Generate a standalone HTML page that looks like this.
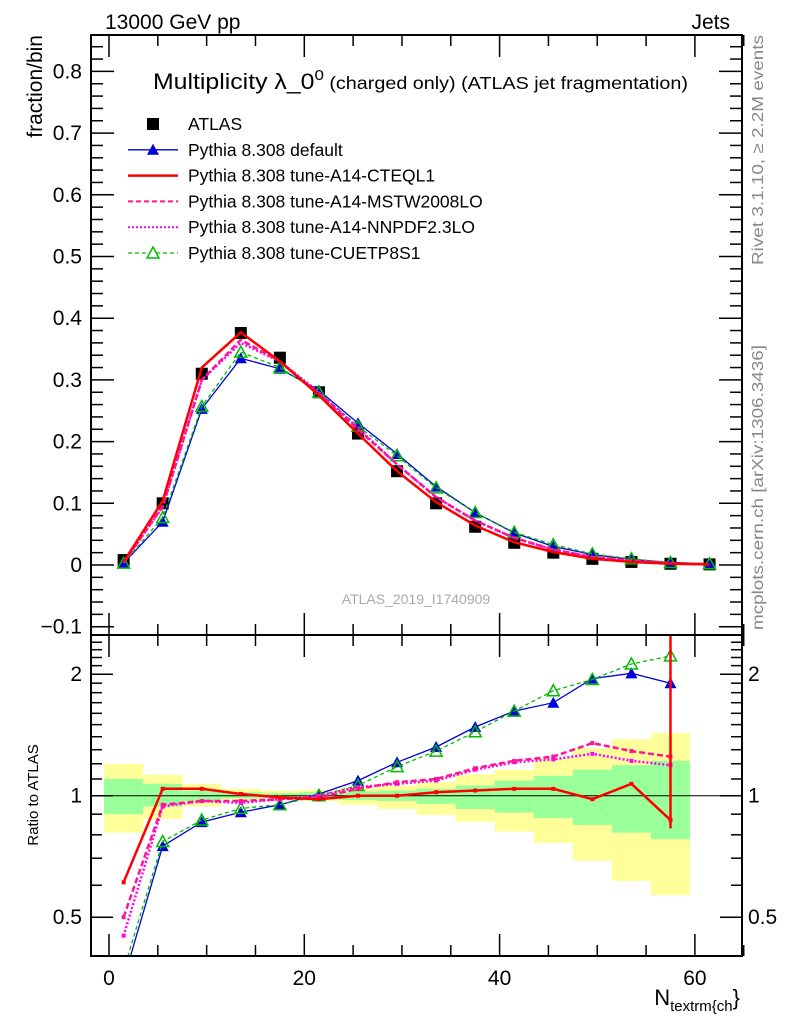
<!DOCTYPE html>
<html><head><meta charset="utf-8"><style>
body{margin:0;background:#fff}
svg{display:block;font-family:"Liberation Sans",sans-serif}
</style></head><body>
<svg id="c" width="786" height="1024" viewBox="0 0 786 1024">
<text x="105" y="29" font-size="21">13000 GeV pp</text>
<text x="730" y="29" font-size="21" text-anchor="end">Jets</text>
<text transform="translate(42,35) rotate(-90)" font-size="21" text-anchor="end">fraction/bin</text>
<text transform="translate(38,795) rotate(-90)" font-size="15" text-anchor="middle">Ratio to ATLAS</text>
<text transform="translate(763,35) rotate(-90)" font-size="16" fill="#888" text-anchor="end" textLength="230" lengthAdjust="spacingAndGlyphs">Rivet 3.1.10, ≥ 2.2M events</text>
<text transform="translate(763,630) rotate(-90)" font-size="16" fill="#888" textLength="285" lengthAdjust="spacingAndGlyphs">mcplots.cern.ch [arXiv:1306.3436]</text>
<text x="416" y="604" font-size="14" fill="#aaa" text-anchor="middle">ATLAS_2019_I1740909</text>
<text x="153" y="89" font-size="22" textLength="535" lengthAdjust="spacingAndGlyphs">Multiplicity λ_0<tspan font-size="15" dy="-9">0</tspan><tspan font-size="17.5" dy="9"> (charged only) (ATLAS jet fragmentation)</tspan></text>
<text x="740" y="1005" font-size="22" text-anchor="end">N<tspan font-size="15" dy="6">textrm{ch</tspan><tspan font-size="22" dy="-6">}</tspan></text>
<g id="plots"></g>
</svg>
<script>
const xCenters=[1.5,5.5,9.5,13.5,17.5,21.5,25.5,29.5,33.5,37.5,41.5,45.5,49.5,53.5,57.5,61.5];
const atlas=[0.008,0.10,0.31,0.376,0.336,0.28,0.213,0.152,0.10,0.062,0.036,0.02,0.01,0.005,0.002,0.001];
const mcDefault=[0.003,0.07,0.253,0.335,0.318,0.283,0.23,0.18,0.127,0.085,0.052,0.030,0.017,0.009,0.004,0.002];
const mcCTEQ=[0.005,0.104,0.32,0.377,0.33,0.275,0.213,0.152,0.102,0.064,0.037,0.021,0.010,0.005,0.002,0.001];
const mcMSTW=[0.004,0.095,0.30,0.365,0.33,0.277,0.22,0.163,0.11,0.072,0.044,0.025,0.013,0.007,0.003,0.001];
const mcNNPDF=[0.0035,0.094,0.30,0.36,0.33,0.28,0.222,0.163,0.11,0.072,0.044,0.025,0.013,0.006,0.003,0.001];
const mcCUETP=[0.003,0.077,0.257,0.345,0.32,0.28,0.225,0.177,0.125,0.085,0.053,0.033,0.018,0.010,0.004,0.002];
const rDefault=[0.35,0.75,0.86,0.91,0.95,1.01,1.09,1.21,1.32,1.48,1.62,1.70,1.95,2.01,1.90];
const rCUETP=[0.37,0.77,0.87,0.93,0.95,1.0,1.06,1.18,1.29,1.44,1.62,1.82,1.94,2.12,2.22];
const rCTEQ=[0.61,1.04,1.04,1.01,0.99,0.98,1.0,1.0,1.02,1.03,1.04,1.04,0.98,1.07,0.87];
const rMSTW=[0.50,0.95,0.97,0.97,0.98,0.99,1.04,1.08,1.10,1.17,1.22,1.25,1.35,1.29,1.25];
const rNNPDF=[0.45,0.94,0.97,0.96,0.98,1.0,1.05,1.07,1.09,1.16,1.21,1.23,1.27,1.22,1.19];
const binEdges=[-0.5,3.5,7.5,11.5,15.5,19.5,23.5,27.5,31.5,35.5,39.5,43.5,47.5,51.5,55.5,59.5];
const bandYelHi=[1.20,1.127,1.07,1.04,1.03,1.035,1.045,1.06,1.08,1.13,1.158,1.24,1.31,1.38,1.43];
const bandYelLo=[0.81,0.876,0.94,0.975,0.985,0.97,0.95,0.927,0.896,0.862,0.815,0.764,0.69,0.615,0.567];
const bandGrnHi=[1.10,1.07,1.03,1.02,1.015,1.02,1.025,1.03,1.04,1.06,1.09,1.12,1.16,1.19,1.22];
const bandGrnLo=[0.90,0.94,0.97,0.985,0.99,0.985,0.975,0.97,0.955,0.927,0.908,0.88,0.846,0.81,0.78];
const mainYTicks=[-0.1,0,0.1,0.2,0.3,0.4,0.5,0.6,0.7,0.8];
const ratioTicks=[0.5,1,2];
const xTicks=[0,20,40,60];

const L=91,R=742,T=35,M=635,B=956;
const X=v=>109+(v)*9.765;
const Y=v=>565-v*617;
const YR=v=>795.7-121.5*Math.log2(v);
const NS='http://www.w3.org/2000/svg';
const g=document.getElementById('plots');
function el(t,a,p){const e=document.createElementNS(NS,t);for(const k in a)e.setAttribute(k,a[k]);(p||g).appendChild(e);return e;}

const clipR=el('clipPath',{id:'cr'});el('rect',{x:L,y:M,width:R-L,height:B-M},clipR);
const clipM=el('clipPath',{id:'cm'});el('rect',{x:L,y:T,width:R-L,height:M-T},clipM);
for(let i=0;i<bandYelHi.length;i++){
  const y=el('rect',{x:X(binEdges[i]),y:YR(bandYelHi[i]),width:X(binEdges[i+1])-X(binEdges[i]),height:YR(bandYelLo[i])-YR(bandYelHi[i]),fill:'#ffff99'});
  
  
  const gr=el('rect',{x:X(binEdges[i]),y:YR(bandGrnHi[i]),width:X(binEdges[i+1])-X(binEdges[i]),height:YR(bandGrnLo[i])-YR(bandGrnHi[i]),fill:'#99ff99'});
  
  
}
el('line',{x1:L,x2:R,y1:YR(1),y2:YR(1),stroke:'#000','stroke-width':1});

function series(name,vals,ys,color,w,dash,marker,clip,n){
  const pts=vals.slice(0,n).map((v,i)=>X(xCenters[i]).toFixed(1)+','+ys(v).toFixed(1)).join(' ');
  const pl=el('polyline',{points:pts,fill:'none',stroke:color,'stroke-width':w,'stroke-dasharray':dash||'','clip-path':clip});
  
  
  vals.slice(0,n).forEach((v,i)=>{
    const cx=X(xCenters[i]),cy=ys(v);
    if(cy<T||cy>B)return;
    let m=null;
    if(marker==='tri')m=el('polygon',{points:`${cx},${cy-6} ${cx-6},${cy+5} ${cx+6},${cy+5}`,fill:color});
    if(marker==='otri')m=el('polygon',{points:`${cx},${cy-6} ${cx-6},${cy+5} ${cx+6},${cy+5}`,fill:'none',stroke:color,'stroke-width':1.5});
    if(marker==='sq')m=el('rect',{x:cx-6,y:cy-6,width:12,height:12,fill:'#000'});
    if(marker==='dot')m=el('rect',{x:cx-2,y:cy-2,width:4,height:4,fill:color});
    if(m){}
  });
}
series('atlas',atlas,Y,'#000',0,'','sq','url(#cm)',16);
series('default',mcDefault,Y,'#0000dd',1.3,'','tri','url(#cm)',16);
series('cuetp8s1',mcCUETP,Y,'#00bb00',1.3,'4,3','otri','url(#cm)',16);
series('nnpdf',mcNNPDF,Y,'#ff00ff',2.5,'2,2','','url(#cm)',16);
series('mstw',mcMSTW,Y,'#ff1493',2.5,'6,3','','url(#cm)',16);
series('cteql1',mcCTEQ,Y,'#ff0000',2.5,'','','url(#cm)',16);
series('ratio-default',rDefault,YR,'#0000dd',1.3,'','tri','url(#cr)',15);
series('ratio-cuetp8s1',rCUETP,YR,'#00bb00',1.3,'4,3','otri','url(#cr)',15);
series('ratio-nnpdf',rNNPDF,YR,'#ff00ff',2.5,'2,2','dot','url(#cr)',15);
series('ratio-mstw',rMSTW,YR,'#ff1493',2.5,'6,3','dot','url(#cr)',15);
series('ratio-cteql1',rCTEQ,YR,'#ff0000',2.5,'','dot','url(#cr)',15);
const ev=el('line',{x1:X(57.5),x2:X(57.5),y1:M,y2:YR(0.83),stroke:'#ff0000','stroke-width':2.5});



el('rect',{x:L,y:T,width:R-L,height:M-T,fill:'none',stroke:'#000','stroke-width':2});
el('rect',{x:L,y:M,width:R-L,height:B-M,fill:'none',stroke:'#000','stroke-width':2});
for(let v=0;v<=65;v+=5){
  const len=v%20===0?22:11;
  [[T,1],[M,-1],[M,1],[B,-1]].forEach(([y0,d])=>el('line',{x1:X(v),x2:X(v),y1:y0,y2:y0+d*len,stroke:'#000','stroke-width':1.5}));
}
xTicks.forEach(v=>{const t=el('text',{x:X(v),y:985,'font-size':21,'text-anchor':'middle'});t.textContent=v;
  });
for(let k=-6;k<=43;k++){const v=k*0.02;const y=Y(v);if(y<T||y>M)continue;
  const len=k%5===0?23:12;
  el('line',{x1:L,x2:L+len,y1:y,y2:y,stroke:'#000','stroke-width':1.5});
  el('line',{x1:R,x2:R-len,y1:y,y2:y,stroke:'#000','stroke-width':1.5});}
mainYTicks.forEach(v=>{const t=el('text',{x:82,y:Y(v)+7,'font-size':21,'text-anchor':'end'});t.textContent=(Math.abs(v)<1e-9?'0':(v<0?'−':'')+Math.abs(v).toFixed(1));
  });
for(let k=4;k<=25;k++){const v=k/10;const y=YR(v);if(y<M||y>B)continue;
  const len=(k===5||k===10||k===20)?22:11;
  el('line',{x1:L,x2:L+len,y1:y,y2:y,stroke:'#000','stroke-width':1.5});
  el('line',{x1:R,x2:R-len,y1:y,y2:y,stroke:'#000','stroke-width':1.5});}
ratioTicks.forEach(v=>{
  const t=el('text',{x:82,y:YR(v)+7,'font-size':21,'text-anchor':'end'});t.textContent=v;
  
  const t2=el('text',{x:748,y:YR(v)+7,'font-size':21});t2.textContent=v;
  });

const legNames=['ATLAS','Pythia 8.308 default','Pythia 8.308 tune-A14-CTEQL1','Pythia 8.308 tune-A14-MSTW2008LO','Pythia 8.308 tune-A14-NNPDF2.3LO','Pythia 8.308 tune-CUETP8S1'];
const legSty=[['#000',0,'','sq'],['#0000dd',1.3,'','tri'],['#ff0000',2.5,'',''],['#ff1493',2,'5,3',''],['#ff00ff',2,'2,2',''],['#00bb00',1.3,'4,3','otri']];
legNames.forEach((n,i)=>{
  const y=124+i*25.8;const [c,w,d,m]=legSty[i];
  const lg=el('g',{});
  
  
  if(w)el('line',{x1:128,x2:178,y1:y,y2:y,stroke:c,'stroke-width':w,'stroke-dasharray':d},lg);
  if(m==='sq')el('rect',{x:147,y:y-6,width:12,height:12,fill:'#000'},lg);
  if(m==='tri')el('polygon',{points:`153,${y-6} 147,${y+5} 159,${y+5}`,fill:c},lg);
  if(m==='otri')el('polygon',{points:`153,${y-6} 147,${y+5} 159,${y+5}`,fill:'#fff',stroke:c,'stroke-width':1.5},lg);
  const t=el('text',{x:188,y:y+6,'font-size':17.5},lg);t.textContent=n;
});
</script>
</body></html>
